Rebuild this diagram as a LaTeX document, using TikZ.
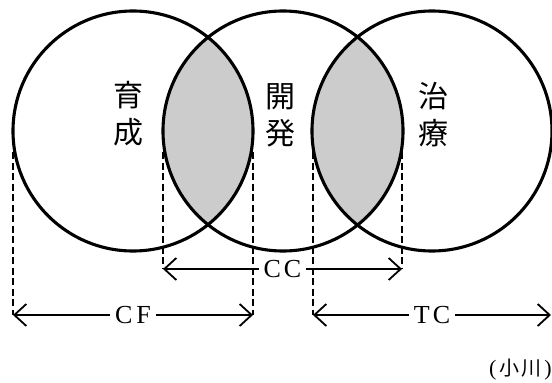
\documentclass[tikz,border=0pt]{standalone}
\usepackage{fontspec}
\setmainfont{Liberation Serif}
\newfontfamily\jp{Noto Sans CJK JP}
\usetikzlibrary{arrows.meta}
\definecolor{lensgray}{RGB}{204,204,204}
\begin{document}
\begin{tikzpicture}[x=1pt,y=-1pt,
  ring/.style={circle,draw,line width=3.1pt,minimum size=240pt,inner sep=0pt},
  guide/.style={line width=2pt,dash pattern=on 7pt off 3.5pt},
  barb/.tip={Straight Barb[length=12pt,width=22pt,line width=1.8pt]},
  span/.style={{barb}-{barb},line width=1.8pt},
  lbl/.style={fill=white,inner xsep=5pt,inner ysep=1pt,font=\fontsize{26}{26}\selectfont},
  kanji/.style={font=\jp\fontsize{30}{37}\selectfont,align=center,inner sep=0pt},
  note/.style={font=\fontsize{22}{22}\selectfont,inner sep=0pt}]
\useasboundingbox (0,0) rectangle (552,383);

% circle centres
\coordinate (cL) at (133,131);
\coordinate (cM) at (283,131);
\coordinate (cR) at (432,131);

% shaded overlaps
\begin{scope}
  \clip (cL) circle (120);
  \fill[lensgray] (cM) circle (120);
\end{scope}
\begin{scope}
  \clip (cM) circle (120);
  \fill[lensgray] (cR) circle (120);
\end{scope}

% the three circles
\node[ring] (L) at (cL) {};
\node[ring] (M) at (cM) {};
\node[ring] (R) at (cR) {};

% circle labels
\node[kanji] (tL) at (128,114) {育\\成};
\node[kanji] (tM) at (280,115) {開\\発};
\node[kanji] (tR) at (433,115) {治\\療};

% ends of the dimension lines
\coordinate (fA) at (13,315);
\coordinate (fB) at (253,315);
\coordinate (cA) at (163,269);
\coordinate (cB) at (402,269);
\coordinate (tA) at (313,315);
\coordinate (tB) at (551,315);

% upper ends of the guide lines
\coordinate (gfA) at (13,152);
\coordinate (gfB) at (253,152);
\coordinate (gcA) at (163,152);
\coordinate (gcB) at (402,152);
\coordinate (gtA) at (313,152);

% dashed guides
\draw[guide] (gfA) -- (fA);
\draw[guide] (gfB) -- (fB);
\draw[guide] (gcA) -- (cA);
\draw[guide] (gcB) -- (cB);
\draw[guide] (gtA) -- (tA);

% dimension arrows
\draw[span] (fA) -- node[lbl] (CF) {C\hspace{4pt}F} (fB);
\draw[span] (cA) -- node[lbl] (CC) {C\hspace{3pt}C} (cB);
\draw[span] (tA) -- node[lbl] (TC) {T\hspace{3pt}C} (tB);

% source note
\node[note,anchor=east] (src) at (552,370)
  {(\hspace{3pt}{\jp\fontsize{20}{20}\selectfont 小\hspace{2pt}川}\hspace{3pt})};
\end{tikzpicture}
\end{document}
